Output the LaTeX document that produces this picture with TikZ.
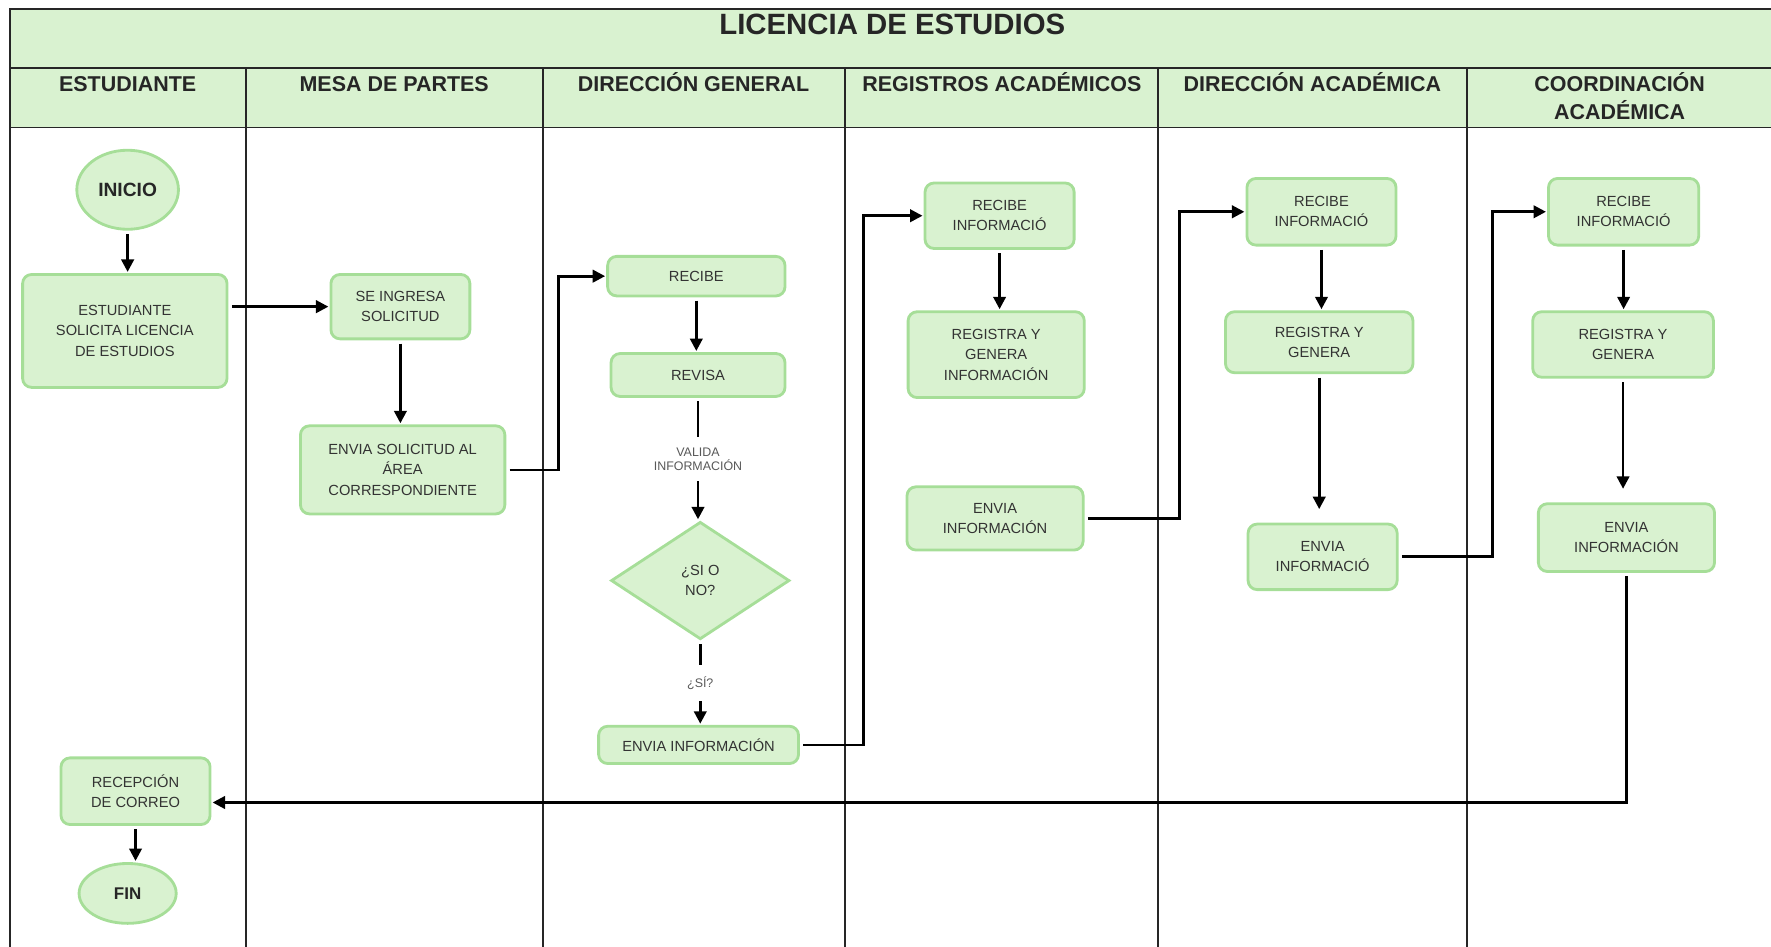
\documentclass[tikz,border=0pt]{standalone}
\usepackage{fontspec}
\setmainfont{Liberation Sans}
\usetikzlibrary{arrows.meta,shapes.geometric}
\definecolor{verdefondo}{RGB}{217,242,208}
\definecolor{verdeborde}{RGB}{166,222,152}
\begin{document}
\begin{tikzpicture}[x=1pt,y=-1pt,
    caja/.style={draw=verdeborde,fill=verdefondo,line width=2.5pt,rounded corners=8pt,
        align=center,text=black!80,font=\fontsize{13}{18}\selectfont,inner sep=2pt},
    terminal/.style={caja,ellipse,font=\fontsize{17}{20}\selectfont\bfseries,text=black!85},
    decision/.style={caja,diamond,rounded corners=0pt,inner sep=0pt},
    flecha/.style={-{Triangle[length=11pt,width=11pt]},line width=2.4pt,
        shorten <=3pt,shorten >=1pt},
    etiqueta/.style={fill=white,text=black!65,font=\fontsize{11}{13}\selectfont,
        align=center,inner sep=9pt},
    linea/.style={line width=1.5pt,draw=black!85},
    cabecera/.style={font=\fontsize{19}{25}\selectfont\bfseries,align=center,text=black!85}]
    \useasboundingbox (0,0) rectangle (1568,838);
    % carriles
    \fill[verdefondo] (9,8) rectangle (1568,113);
    \draw[linea] (1568,8) -- (9,8) -- (9,838);
    \draw[linea] (9,60) -- (1568,60);
    \draw[linea] (9,113) -- (1568,113);
    \foreach \x in {218,481,748,1025,1299} {
        \draw[linea] (\x,60) -- (\x,838);
    }
    \node[cabecera,font=\fontsize{26}{30}\selectfont\bfseries] (titulo) at (790,22) {LICENCIA DE ESTUDIOS};
    \foreach \x/\nombre in {113/ESTUDIANTE,349/MESA DE PARTES,614/DIRECCIÓN GENERAL,
        887/REGISTROS ACADÉMICOS,1162/DIRECCIÓN ACADÉMICA} {
        \node[cabecera,anchor=base] (cab\x) at (\x,81) {\nombre};
    }
    \node[cabecera,anchor=base] (cab1434) at (1434,106) {COORDINACIÓN\\ACADÉMICA};
    % nodos
    \node[terminal,minimum width=90pt,minimum height=70pt] (inicio) at (113,168) {INICIO};
    \node[caja,minimum width=181pt,minimum height=100pt] (solicita) at (110.5,293) {ESTUDIANTE\\SOLICITA LICENCIA\\DE ESTUDIOS};
    \node[caja,minimum width=123pt,minimum height=57pt] (ingresa) at (354.5,271.5) {SE INGRESA\\SOLICITUD};
    \node[caja,minimum width=181pt,minimum height=78pt] (enviasol) at (356.5,416) {ENVIA SOLICITUD AL\\ÁREA\\CORRESPONDIENTE};
    \node[caja,minimum width=157pt,minimum height=35pt] (recibe1) at (616.5,244.5) {RECIBE};
    \node[caja,minimum width=154pt,minimum height=38pt] (revisa) at (618,332) {REVISA};
    \node[decision,minimum width=158pt,minimum height=104pt] (decide) at (620,514) {¿SI O\\NO?};
    \node[caja,minimum width=177pt,minimum height=33pt] (envia1) at (618.5,659.5) {ENVIA INFORMACIÓN};
    \node[caja,minimum width=132pt,minimum height=58pt] (recibe2) at (885,191) {RECIBE\\INFORMACIÓ};
    \node[caja,minimum width=156pt,minimum height=76pt] (registra2) at (882,314) {REGISTRA Y\\GENERA\\INFORMACIÓN};
    \node[caja,minimum width=156pt,minimum height=56pt] (envia2) at (881,459) {ENVIA\\INFORMACIÓN};
    \node[caja,minimum width=132pt,minimum height=59pt] (recibe3) at (1170,187.5) {RECIBE\\INFORMACIÓ};
    \node[caja,minimum width=166pt,minimum height=54pt] (registra3) at (1168,303) {REGISTRA Y\\GENERA};
    \node[caja,minimum width=132pt,minimum height=58pt] (envia3) at (1171,493) {ENVIA\\INFORMACIÓ};
    \node[caja,minimum width=133pt,minimum height=59pt] (recibe4) at (1437.5,187.5) {RECIBE\\INFORMACIÓ};
    \node[caja,minimum width=160pt,minimum height=58pt] (registra4) at (1437,305) {REGISTRA Y\\GENERA};
    \node[caja,minimum width=156pt,minimum height=60pt] (envia4) at (1440,476) {ENVIA\\INFORMACIÓN};
    \node[caja,minimum width=132pt,minimum height=59pt] (recepcion) at (120,700.5) {RECEPCIÓN\\DE CORREO};
    \node[terminal,minimum width=86pt,minimum height=53pt,font=\fontsize{15}{18}\selectfont\bfseries] (fin) at (113,791) {FIN};
    % flujo
    \draw[flecha] (inicio) -- (inicio |- solicita.north);
    \draw[flecha] (solicita.east |- ingresa) -- (ingresa.west);
    \draw[flecha] (ingresa) -- (ingresa |- enviasol.north);
    \draw[flecha] (enviasol.east) -- ++(46,0) |- (recibe1.west);
    \draw[flecha] (recibe1) -- (recibe1 |- revisa.north);
    \draw[flecha] (revisa) -- node[etiqueta] (valida) {VALIDA\\INFORMACIÓN} (revisa |- decide.north);
    \draw[flecha] (decide) -- node[etiqueta,inner sep=10pt] (si) {¿SÍ?} (decide |- envia1.north);
    \draw[flecha] (envia1.east) -- ++(56,0) |- (recibe2.west);
    \draw[flecha] (recibe2) -- (recibe2 |- registra2.north);
    \draw[flecha] (envia2.east) -- ++(84,0) |- (recibe3.west);
    \draw[flecha] (recibe3) -- (recibe3 |- registra3.north);
    \draw[flecha,shorten >=12pt] (registra3) -- (registra3 |- envia3.north);
    \draw[flecha] (envia3.east) -- ++(83,0) |- (recibe4.west);
    \draw[flecha] (recibe4) -- (recibe4 |- registra4.north);
    \draw[flecha,shorten >=12pt] (registra4) -- (registra4 |- envia4.north);
    \draw[flecha] (envia4) |- ([yshift=-10pt]recepcion.east);
    \draw[flecha] (recepcion) -- (recepcion |- fin.north);
\end{tikzpicture}
\end{document}
